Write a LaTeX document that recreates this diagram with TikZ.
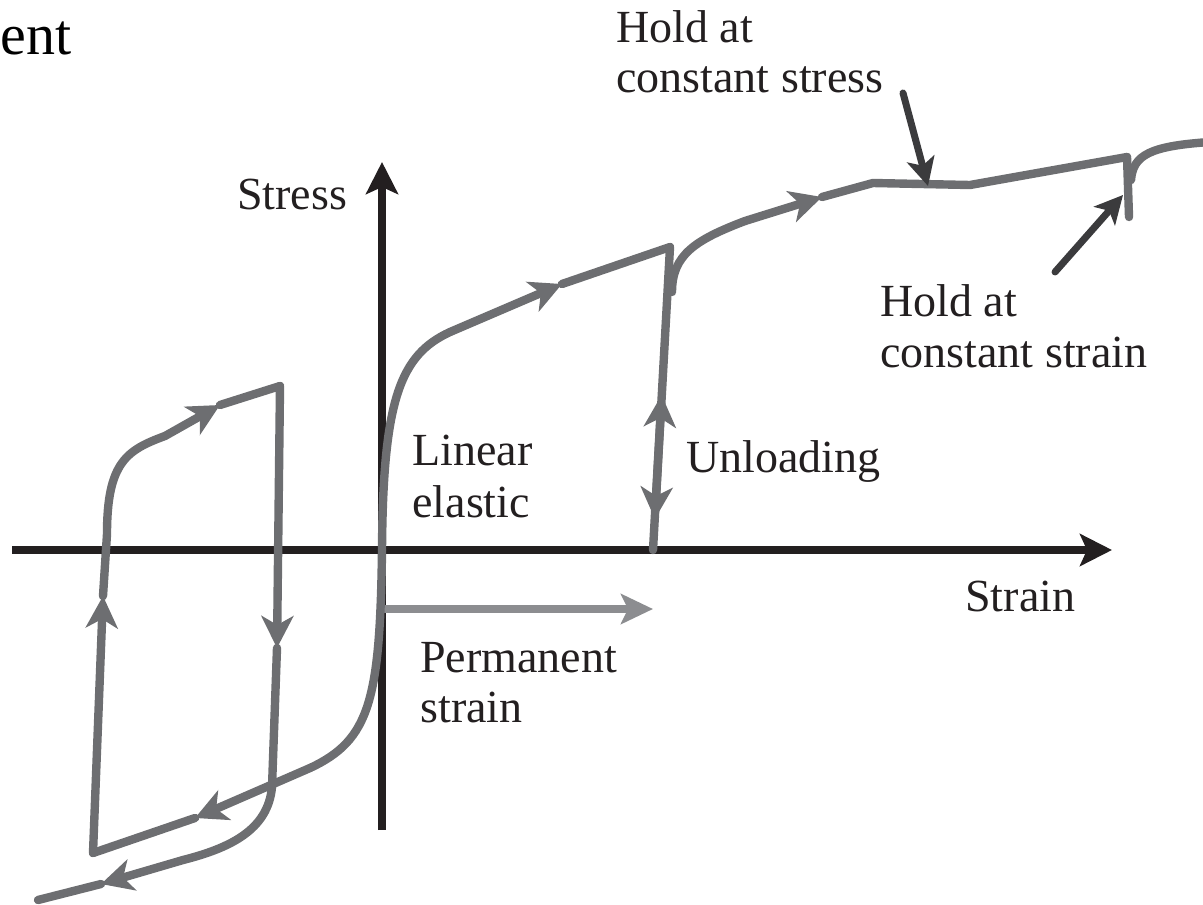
\documentclass[tikz,border=0pt]{standalone}
\usepackage{fontspec}
\setmainfont{Liberation Serif}
\usetikzlibrary{arrows.meta}
\definecolor{curvegray}{HTML}{6D6E71}
\definecolor{permgray}{HTML}{8C8D90}
\definecolor{axisblack}{HTML}{231F20}
\definecolor{annogray}{HTML}{3B3B3D}
\begin{document}
\begin{tikzpicture}[x=0.5pt,y=-0.5pt,
  curve/.style={draw=curvegray,line width=4.2pt,line cap=round,line join=round},
  tipc/.style={-{Stealth[length=16pt,width=16pt,inset=4.5pt]}},
  axis/.style={draw=axisblack,line width=3.6pt,-{Stealth[length=16pt,width=16pt,inset=3.5pt]}},
  anno/.style={draw=annogray,line width=3.5pt,line cap=round,-{Stealth[length=14pt,width=14pt,inset=3.5pt]}},
  lbl/.style={inner sep=0pt,anchor=base west,text=axisblack,font=\fontsize{23}{27}\selectfont}]
\useasboundingbox (0,0) rectangle (1203,904);

% axes
\coordinate (O) at (382,550);
\coordinate (ybot) at (382,830);
\coordinate (ytop) at (382,162);
\coordinate (xleft) at (12,550);
\coordinate (xright) at (1112,550);
\draw[axis] (ybot) -- (ytop);
\draw[axis] (xleft) -- (xright);

% permanent strain arrow
\coordinate (ps1) at (384,609);
\coordinate (ps2) at (653,609);
\draw[draw=permgray,line width=4.2pt,-{Stealth[length=16pt,width=15pt,inset=3.5pt]}] (ps1) -- (ps2);

% first loading
\draw[curve] (O) .. controls (383,400) and (400,355) .. (450,332);
\draw[curve,tipc] (450,332) -- (562,284);
\draw[curve] (562,284) -- (670,247);

% unloading
\draw[curve,tipc] (670,247) -- (654.9,519);
\draw[curve,tipc] (653,550) -- (661.6,395);

% reloading
\draw[curve] (672,292) .. controls (672,255) and (695,240) .. (745,221);
\draw[curve,tipc] (745,221) -- (822,197);
\draw[curve] (822,197) -- (873,183) -- (970,185) -- (1127,157);
\draw[curve] (1127,157) -- (1129,217);
\draw[curve] (1131,180) .. controls (1133,155) and (1150,146) .. (1210,142);

% compression and loop
\draw[curve] (O) .. controls (380,700) and (370,740) .. (310,768);
\draw[curve,tipc] (310,768) -- (195,818);
\draw[curve] (195,818) -- (93,853);
\draw[curve,tipc] (93,853) -- (103,596);
\draw[curve] (103,596) -- (107,534) .. controls (107,462) and (127,450) .. (165,436);
\draw[curve,tipc] (165,436) -- (220,405);
\draw[curve] (220,405) -- (280,386);
\draw[curve,tipc] (280,386) -- (277,648);
\draw[curve] (277,648) -- (272,787) .. controls (268,830) and (230,848) .. (183,860);
\draw[curve,tipc] (183,860) -- (101,884);
\draw[curve] (101,884) -- (38,900);

% labels
\node[anchor=base west,inner sep=0pt,font=\fontsize{29}{34}\selectfont] (ent) at (0,55) {ent};
\node[lbl,anchor=base] (stress) at (292,209) {Stress};
\node[lbl] (strain) at (965,611) {Strain};
\node[lbl] (lin1) at (412,465) {Linear};
\node[lbl] (lin2) at (412,517) {elastic};
\node[lbl] (unl) at (686,472) {Unloading};
\node[lbl] (perm1) at (420,672) {Permanent};
\node[lbl] (perm2) at (420,722) {strain};
\node[lbl] (hs1) at (616,43) {Hold at};
\node[lbl] (hs2) at (616,93) {constant stress};
\node[lbl] (hn1) at (880,316) {Hold at};
\node[lbl] (hn2) at (880,367) {constant strain};

% annotation arrows
\coordinate (hsA) at (903,93);
\coordinate (hsB) at (928,186);
\coordinate (hnA) at (1055,272);
\coordinate (hnB) at (1123,195);
\draw[anno] (hsA) -- (hsB);
\draw[anno] (hnA) -- (hnB);
\end{tikzpicture}
\end{document}
